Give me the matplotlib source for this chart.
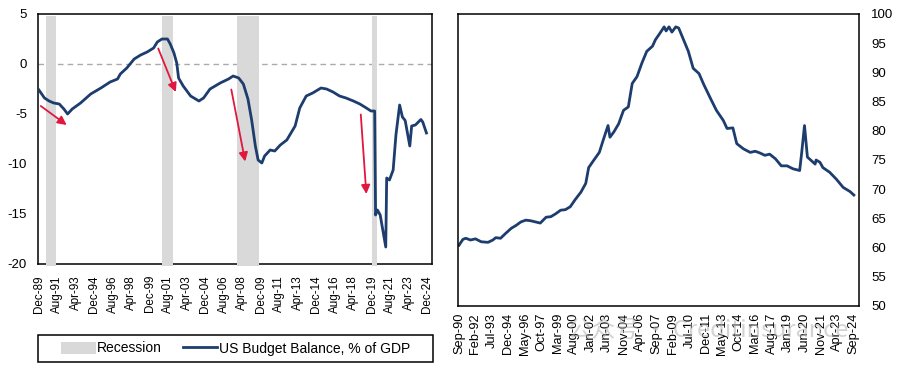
import matplotlib
matplotlib.use("Agg")
import matplotlib.pyplot as plt
from matplotlib.patches import Patch, Rectangle
from matplotlib.lines import Line2D

plt.rcParams['font.family'] = ['Liberation Sans', 'DejaVu Sans']

# ---------------- data: left panel (US budget balance, % of GDP) ----------------
bb_dates = ["1989-12", "1990-06", "1990-11", "1991-04", "1991-10", "1992-03", "1992-07",
            "1992-12", "1993-09", "1994-08", "1995-07", "1996-05", "1997-01", "1997-04",
            "1997-11", "1998-07", "1999-02", "1999-09", "2000-04", "2000-08", "2001-01",
            "2001-07", "2001-10", "2002-02", "2002-05", "2002-07", "2002-12", "2003-08",
            "2004-05", "2004-10", "2005-05", "2006-04", "2007-01", "2007-06", "2007-12",
            "2008-05", "2008-10", "2009-02", "2009-06", "2009-09", "2010-01", "2010-04",
            "2010-10", "2011-03", "2011-09", "2012-04", "2013-01", "2013-06", "2014-01",
            "2014-08", "2015-05", "2015-11", "2016-06", "2017-01", "2017-08", "2018-04",
            "2018-11", "2019-06", "2019-11", "2020-03", "2020-04", "2020-06", "2020-09",
            "2021-03", "2021-04", "2021-07", "2021-11", "2022-02", "2022-06", "2022-09",
            "2022-12", "2023-05", "2023-07", "2023-11", "2024-05", "2024-07", "2024-11"]
bb_values = [-2.6, -3.4, -3.7, -3.9, -4.0, -4.5, -5.0,
             -4.5, -3.9, -3.0, -2.4, -1.8, -1.5, -1.0,
             -0.4, 0.5, 0.9, 1.2, 1.6, 2.2, 2.5,
             2.5, 2.0, 1.1, 0.1, -1.4, -2.2, -3.2,
             -3.7, -3.4, -2.5, -1.9, -1.5, -1.2, -1.4,
             -2.0, -3.5, -5.6, -8.2, -9.6, -9.9, -9.2,
             -8.6, -8.7, -8.1, -7.6, -6.2, -4.4, -3.2,
             -2.9, -2.4, -2.5, -2.8, -3.2, -3.4, -3.7,
             -4.0, -4.4, -4.7, -4.7, -15.1, -14.6, -15.1,
             -18.3, -11.4, -11.6, -10.6, -7.1, -4.1, -5.3,
             -5.65, -8.2, -6.2, -6.1, -5.55, -5.8, -6.9]

recession_start = ["1990-08", "2001-01", "2007-10", "2019-12"]
recession_end = ["1991-07", "2002-01", "2009-10", "2020-06"]

left_ticklabels = ["Dec-89", "Aug-91", "Apr-93", "Dec-94", "Aug-96", "Apr-98", "Dec-99",
                   "Aug-01", "Apr-03", "Dec-04", "Aug-06", "Apr-08", "Dec-09", "Aug-11",
                   "Apr-13", "Dec-14", "Aug-16", "Apr-18", "Dec-19", "Aug-21", "Apr-23",
                   "Dec-24"]
left_yticks = [5, 0, -5, -10, -15, -20]

# red arrows (tail date, tail value, head date, head value)
arrow_tail_dates = ["1990-02", "2000-09", "2007-04", "2018-12"]
arrow_tail_vals = [-4.2, 1.55, -2.55, -5.05]
arrow_head_dates = ["1992-06", "2002-04", "2008-07", "2019-06"]
arrow_head_vals = [-6.1, -2.8, -9.75, -13.0]

# ---------------- data: right panel ----------------
r_dates = ["1990-09", "1991-01", "1991-04", "1991-09", "1992-02", "1992-08", "1993-03",
           "1993-08", "1993-11", "1994-04", "1994-09", "1995-03", "1995-08", "1996-01",
           "1996-06", "1996-11", "1997-04", "1997-09", "1998-03", "1998-08", "1999-01",
           "1999-06", "1999-11", "2000-04", "2000-09", "2001-03", "2001-08", "2001-11",
           "2002-04", "2002-10", "2003-03", "2003-07", "2003-09", "2004-01", "2004-06",
           "2004-11", "2005-04", "2005-08", "2006-01", "2006-06", "2006-11", "2007-05",
           "2007-08", "2008-01", "2008-05", "2008-07", "2008-10", "2009-01", "2009-05",
           "2009-08", "2010-01", "2010-06", "2010-11", "2011-05", "2011-10", "2012-05",
           "2012-11", "2013-06", "2013-10", "2014-04", "2014-08", "2015-03", "2015-10",
           "2016-03", "2016-08", "2017-01", "2017-06", "2017-12", "2018-06", "2018-12",
           "2019-06", "2020-01", "2020-03", "2020-06", "2020-09", "2021-01", "2021-05",
           "2021-06", "2021-10", "2022-01", "2022-08", "2023-03", "2023-10", "2024-05",
           "2024-09"]
r_values = [60.4, 61.4, 61.6, 61.3, 61.5, 61.0, 60.9,
            61.3, 61.7, 61.6, 62.4, 63.3, 63.8, 64.4,
            64.7, 64.6, 64.4, 64.2, 65.2, 65.3, 65.8,
            66.4, 66.5, 67.0, 68.2, 69.5, 71.0, 73.7,
            74.9, 76.3, 78.9, 80.9, 78.9, 79.8, 81.2,
            83.5, 84.1, 88.1, 89.3, 91.6, 93.6, 94.5,
            95.6, 96.8, 97.8, 97.1, 97.8, 96.9, 97.8,
            97.6, 95.6, 93.6, 90.7, 89.8, 87.9, 85.5,
            83.5, 81.8, 80.4, 80.5, 77.8, 76.9, 76.3,
            76.5, 76.2, 75.8, 76.0, 75.2, 74.0, 74.0,
            73.5, 73.2, 76.1, 80.9, 75.5, 74.9, 74.3,
            75.0, 74.6, 73.7, 72.9, 71.7, 70.3, 69.6,
            69.0]

right_ticklabels = ["Sep-90", "Feb-92", "Jul-93", "Dec-94", "May-96", "Oct-97", "Mar-99",
                    "Aug-00", "Jan-02", "Jun-03", "Nov-04", "Apr-06", "Sep-07", "Feb-09",
                    "Jul-10", "Dec-11", "May-13", "Oct-14", "Mar-16", "Aug-17", "Jan-19",
                    "Jun-20", "Nov-21", "Apr-23", "Sep-24"]
right_yticks = [100, 95, 90, 85, 80, 75, 70, 65, 60, 55, 50]

# ---------------- helpers ----------------
MONTHS = ["Jan", "Feb", "Mar", "Apr", "May", "Jun", "Jul", "Aug", "Sep", "Oct", "Nov", "Dec"]


def ym(s):
    y, m = s.split("-")
    return int(y) * 12 + int(m) - 1


def lbl(s):
    mon, yy = s.split("-")
    yy = int(yy)
    year = 1900 + yy if yy >= 50 else 2000 + yy
    return year * 12 + MONTHS.index(mon)


NAVY = "#1C3D6E"
GREY = "#D9D9D9"
RED = "#E0173F"

fig = plt.figure(figsize=(9.0, 3.67), dpi=100)

# ---------------- left panel ----------------
ax1 = fig.add_axes([38 / 900, 1 - 264 / 367, (432 - 38) / 900, (264 - 14) / 367])
x0 = ym("1989-12")
bx = [ym(d) - x0 for d in bb_dates]
for s, e in zip(recession_start, recession_end):
    ax1.axvspan(ym(s) - x0, ym(e) - x0, ymin=-0.006, ymax=0.992, color=GREY,
                lw=0, zorder=3, clip_on=False)
ax1.axhline(0, color="#ABABAB", lw=1.0, ls=(0, (4, 3)), zorder=2)
ax1.plot(bx, bb_values, color=NAVY, lw=2.0, zorder=5, solid_joinstyle="round")
for td, tv, hd, hv in zip(arrow_tail_dates, arrow_tail_vals, arrow_head_dates, arrow_head_vals):
    ax1.annotate("", xy=(ym(hd) - x0, hv), xytext=(ym(td) - x0, tv),
                 arrowprops=dict(arrowstyle="-|>", color=RED, lw=1.3,
                                 mutation_scale=13, shrinkA=0, shrinkB=0),
                 zorder=6)
ax1.set_xlim(-1, 425)
ax1.set_ylim(-20, 5)
ax1.set_yticks(left_yticks)
ax1.set_yticklabels([str(v) for v in left_yticks], fontsize=9.5)
ax1.set_xticks([lbl(t) - x0 for t in left_ticklabels])
ax1.set_xticklabels(left_ticklabels, rotation=90, fontsize=8.4)
ax1.tick_params(axis="both", length=0)
ax1.tick_params(axis="y", pad=8)
ax1.tick_params(axis="x", pad=8)
for sp in ax1.spines.values():
    sp.set_color("black")
    sp.set_linewidth(1.1)

# legend box under the left panel
rect = Rectangle((38 / 900, 1 - 362 / 367), (433 - 38) / 900, 27 / 367,
                 transform=fig.transFigure, fill=False, edgecolor="black", lw=1.1)
fig.add_artist(rect)
handles = [Patch(facecolor=GREY, edgecolor="none"),
           Line2D([0], [0], color=NAVY, lw=2.0)]
fig.legend(handles, ["Recession", "US Budget Balance, % of GDP"],
           loc="center", bbox_to_anchor=((38 + 433) / 2 / 900, 1 - 348.5 / 367),
           ncol=2, frameon=False, fontsize=10, handlelength=2.5, handletextpad=0.1,
           columnspacing=1.5, handleheight=1.0)

# ---------------- right panel ----------------
ax2 = fig.add_axes([458 / 900, 1 - 306 / 367, (858.7 - 458) / 900, (306 - 14) / 367])
r0 = ym("1990-09")
rx = [ym(d) - r0 for d in r_dates]
ax2.plot(rx, r_values, color=NAVY, lw=2.0, solid_joinstyle="round")
ax2.set_xlim(-1, 413)
ax2.set_ylim(50, 100)
ax2.yaxis.tick_right()
ax2.set_yticks(right_yticks)
ax2.set_yticklabels([str(v) for v in right_yticks], fontsize=9.5)
ax2.set_xticks([lbl(t) - r0 for t in right_ticklabels])
ax2.set_xticklabels(right_ticklabels, rotation=90, fontsize=9.2)
ax2.tick_params(axis="both", length=0)
ax2.tick_params(axis="y", pad=9)
ax2.tick_params(axis="x", pad=5)
for sp in ax2.spines.values():
    sp.set_color("black")
    sp.set_linewidth(1.1)

# faint watermark
fig.text(708 / 900, 1 - 331 / 367, "公众号 · Creditinsurance", ha="center", va="center",
         fontsize=17, color="#B0B0B0", alpha=0.55,
         family=["Noto Sans CJK SC", "DejaVu Sans"], zorder=10)

fig.savefig("out.png", dpi=100)
